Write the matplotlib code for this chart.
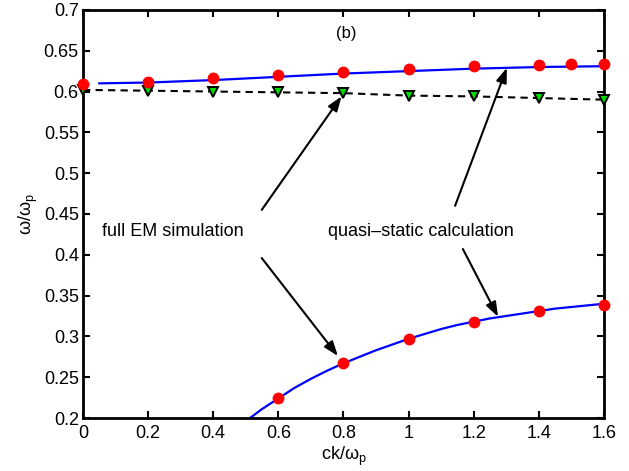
import matplotlib
matplotlib.use("Agg")
import matplotlib.pyplot as plt

plt.rcParams['font.family'] = ['Liberation Sans', 'DejaVu Sans']
plt.rcParams['mathtext.fontset'] = 'custom'
plt.rcParams['mathtext.rm'] = 'Liberation Sans'
plt.rcParams['mathtext.it'] = 'Liberation Sans'

# quasi-static calculation (upper branch)
qs_upper_x = [0.05, 0.2, 0.4, 0.6, 0.8, 1.0, 1.2, 1.4, 1.6]
qs_upper_y = [0.610, 0.611, 0.614, 0.618, 0.622, 0.625, 0.628, 0.630, 0.631]
# quasi-static calculation (lower branch)
qs_lower_x = [0.513, 0.55, 0.6, 0.65, 0.7, 0.75, 0.8, 0.85, 0.9, 0.95, 1.0, 1.05,
              1.1, 1.15, 1.2, 1.25, 1.3, 1.35, 1.4, 1.45, 1.5, 1.55, 1.6]
qs_lower_y = [0.200, 0.211, 0.224, 0.237, 0.248, 0.258, 0.267, 0.275, 0.283, 0.290, 0.297, 0.303,
              0.309, 0.314, 0.318, 0.322, 0.325, 0.328, 0.331, 0.334, 0.336, 0.338, 0.340]
# full EM simulation (upper, red dots)
em_upper_x = [0.0, 0.2, 0.4, 0.6, 0.8, 1.0, 1.2, 1.4, 1.5, 1.6]
em_upper_y = [0.609, 0.612, 0.617, 0.620, 0.624, 0.628, 0.631, 0.633, 0.634, 0.634]
# full EM simulation (lower, red dots)
em_lower_x = [0.6, 0.8, 1.0, 1.2, 1.4, 1.6]
em_lower_y = [0.225, 0.268, 0.297, 0.318, 0.331, 0.339]
# dashed branch with triangles
dash_x = [0.0, 0.2, 0.4, 0.6, 0.8, 1.0, 1.2, 1.4, 1.6]
dash_y = [0.602, 0.601, 0.600, 0.599, 0.598, 0.595, 0.594, 0.592, 0.590]

fig = plt.figure(figsize=(6.29, 4.71), dpi=100)
ax = fig.add_axes([0.132, 0.1125, 0.828, 0.8665])

ax.plot(qs_upper_x, qs_upper_y, color='#0000ff', lw=1.6, zorder=2)
ax.plot(qs_lower_x, qs_lower_y, color='#0000ff', lw=1.6, zorder=2)
ax.plot(dash_x, dash_y, color='black', lw=1.5, ls=(0, (3.5, 2.5)), zorder=2)
ax.plot(dash_x, dash_y, ls='none', marker='v', ms=6.5, mfc='#00dd00', mec='black', mew=1.4,
        zorder=3, clip_on=False)
ax.plot(em_upper_x, em_upper_y, ls='none', marker='o', ms=7.5, mfc='red', mec='red', zorder=4,
        clip_on=False)
ax.plot(em_lower_x, em_lower_y, ls='none', marker='o', ms=7.5, mfc='red', mec='red', zorder=4,
        clip_on=False)

ax.set_xlim(0, 1.6)
ax.set_ylim(0.2, 0.7)
ax.set_xticks([0, 0.2, 0.4, 0.6, 0.8, 1, 1.2, 1.4, 1.6])
ax.set_xticklabels(['0', '0.2', '0.4', '0.6', '0.8', '1', '1.2', '1.4', '1.6'])
ax.set_yticks([0.2, 0.25, 0.3, 0.35, 0.4, 0.45, 0.5, 0.55, 0.6, 0.65, 0.7])
ax.set_yticklabels(['0.2', '0.25', '0.3', '0.35', '0.4', '0.45', '0.5', '0.55', '0.6', '0.65', '0.7'])
ax.tick_params(direction='in', top=True, right=True, length=5, width=1.5, labelsize=13)
ax.tick_params(axis='x', pad=5)
ax.tick_params(axis='y', pad=3)
for s in ax.spines.values():
    s.set_linewidth(2)

ax.set_xlabel(r'ck/$\omega_{\rm p}$', fontsize=13, labelpad=2)
ax.set_ylabel(r'$\omega$/$\omega_{\rm p}$', fontsize=13, labelpad=3)

ax.text(0.81, 0.671, '(b)', fontsize=12, ha='center', va='center')
ax.text(0.058, 0.428, 'full EM simulation', fontsize=13, ha='left', va='center')
ax.text(0.752, 0.428, 'quasi\u2013static calculation', fontsize=13, ha='left', va='center')

arrowprops = dict(arrowstyle='-|>,head_length=0.55,head_width=0.2', color='black', lw=1.5,
                  mutation_scale=16, shrinkA=0, shrinkB=0)
ax.annotate('', xy=(0.794, 0.594), xytext=(0.549, 0.455), arrowprops=arrowprops)
ax.annotate('', xy=(0.783, 0.276), xytext=(0.549, 0.396), arrowprops=arrowprops)
ax.annotate('', xy=(1.302, 0.629), xytext=(1.143, 0.460), arrowprops=arrowprops)
ax.annotate('', xy=(1.275, 0.324), xytext=(1.167, 0.407), arrowprops=arrowprops)

fig.savefig('out.png', dpi=100)
